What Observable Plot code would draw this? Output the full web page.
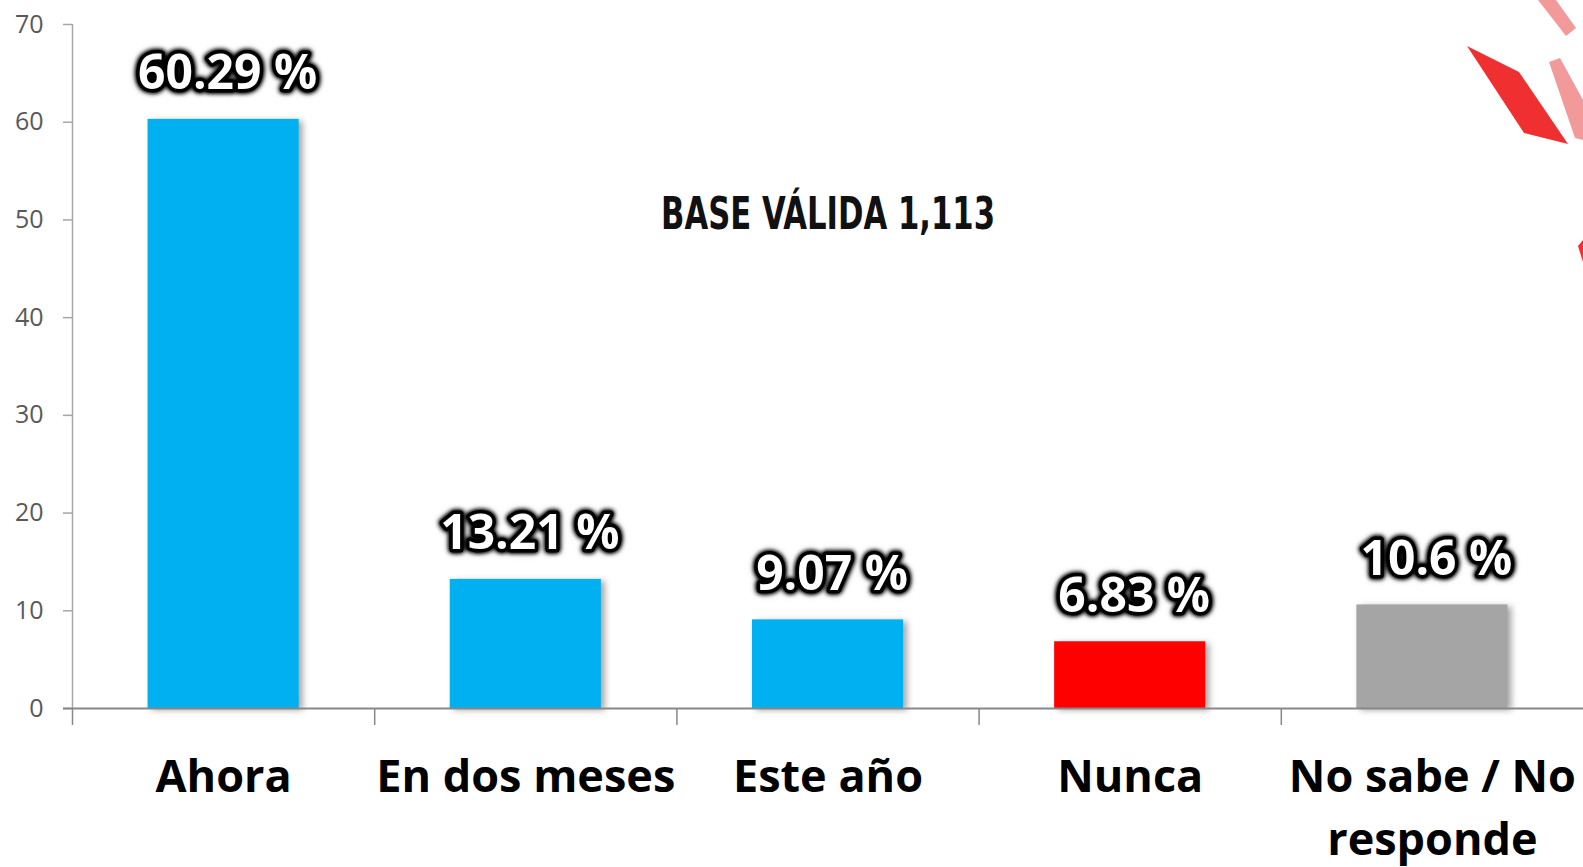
<!DOCTYPE html>
<html><head><meta charset="utf-8">
<script src="https://cdn.jsdelivr.net/npm/d3@7"></script>
<script src="https://cdn.jsdelivr.net/npm/@observablehq/plot@0.6"></script>
<style>
html,body{margin:0;padding:0;background:#fff;overflow:hidden}
#chart{position:relative;width:1583px;height:867px}
#chart svg.plot{position:absolute;left:0;top:0}
#chart g[aria-label="rect"] rect{filter:drop-shadow(4px 2px 3px rgba(0,0,0,0.35))}
#chart g.vlabels text{filter:drop-shadow(0 0 2px #000) drop-shadow(0 0 2px #000)}
#deco{position:absolute;left:0;top:0;pointer-events:none}
</style></head><body><div id="chart">
<svg id="deco" width="1583" height="867" aria-hidden="true">
  <polygon points="1467,46 1519,72 1568,144 1524,133" fill="#f03030"/>
  <polygon points="1538,0 1556,0 1576,28 1566,36" fill="#f29a9a"/>
  <polygon points="1549,62 1560,58 1583,100 1583,140 1575,138" fill="#f29a9a"/>
  <polygon points="1578,246 1583,240 1583,262" fill="#f03030"/>
</svg>
</div>
<script>
const categories = ["Ahora", "En dos meses", "Este año", "Nunca", "No sabe / No\nresponde"];
const values = [60.29, 13.21, 9.07, 6.83, 10.6];
const colors = ["#00B0F0", "#00B0F0", "#00B0F0", "#FF0000", "#A5A5A5"];
const yTicks = [0, 10, 20, 30, 40, 50, 60, 70];
const note = "BASE VÁLIDA 1,113";

const data = categories.map((c, i) => ({i, category: c, value: values[i], color: colors[i], label: `${values[i]} %`}));

const chart = Plot.plot({
  width: 1583, height: 867,
  marginLeft: 72, marginRight: 0, marginTop: 24, marginBottom: 159,
  x: {domain: [0, categories.length], axis: null},
  y: {domain: [0, 70], axis: null},
  style: {background: "transparent", overflow: "visible", fontFamily: "'Open Sans', sans-serif"},
  marks: [
    Plot.rectY(data, {x1: d => d.i + 0.25, x2: d => d.i + 0.75, y1: 0, y2: "value", fill: d => d.color}),
    Plot.ruleX([0], {y1: 0, y2: 70, stroke: "#A6A6A6", strokeWidth: 1.5}),
    Plot.axisY({ticks: yTicks, label: null, tickSize: 9, tickPadding: 20, stroke: "#A6A6A6", fill: "#595959", fontSize: 25, fontFamily: "'Open Sans', sans-serif", strokeWidth: 1.5}),
    Plot.axisX({ticks: d3.range(categories.length), label: null, tickSize: 17, tickFormat: () => "", stroke: "#888", strokeWidth: 1.5}),
    Plot.ruleY([0], {stroke: "#888", strokeWidth: 2, insetLeft: -9}),
    Plot.text(data, {x: d => d.i + 0.5, y: 0, text: "category", lineAnchor: "top", dy: 39, fontSize: 45, fontWeight: "bold", fontFamily: "'Open Sans', sans-serif", lineHeight: 1.4, fill: "#000"}),
    Plot.text(data, {x: d => d.i + 0.5, y: "value", text: "label", lineAnchor: "bottom", dy: -30, dx: 4, fontSize: 48, fontWeight: "bold", fontFamily: "'Open Sans', sans-serif", fill: "#fff", stroke: "#000", strokeWidth: 7, strokeLinejoin: "round", paintOrder: "stroke", letterSpacing: "-1.5px", className: "vlabels"}),
    Plot.text([note], {x: 2.5, y: 50.5, text: d => d, fontSize: 45, fontWeight: "bold", fontFamily: "'DejaVu Sans Condensed', 'Liberation Sans Narrow', sans-serif", fill: "#111", className: "note"})
  ]
});
chart.classList.add("plot");
d3.select(chart).selectAll("g.note text").attr("textLength", 334).attr("lengthAdjust", "spacingAndGlyphs");
document.getElementById("chart").prepend(chart);
</script>
</body></html>
